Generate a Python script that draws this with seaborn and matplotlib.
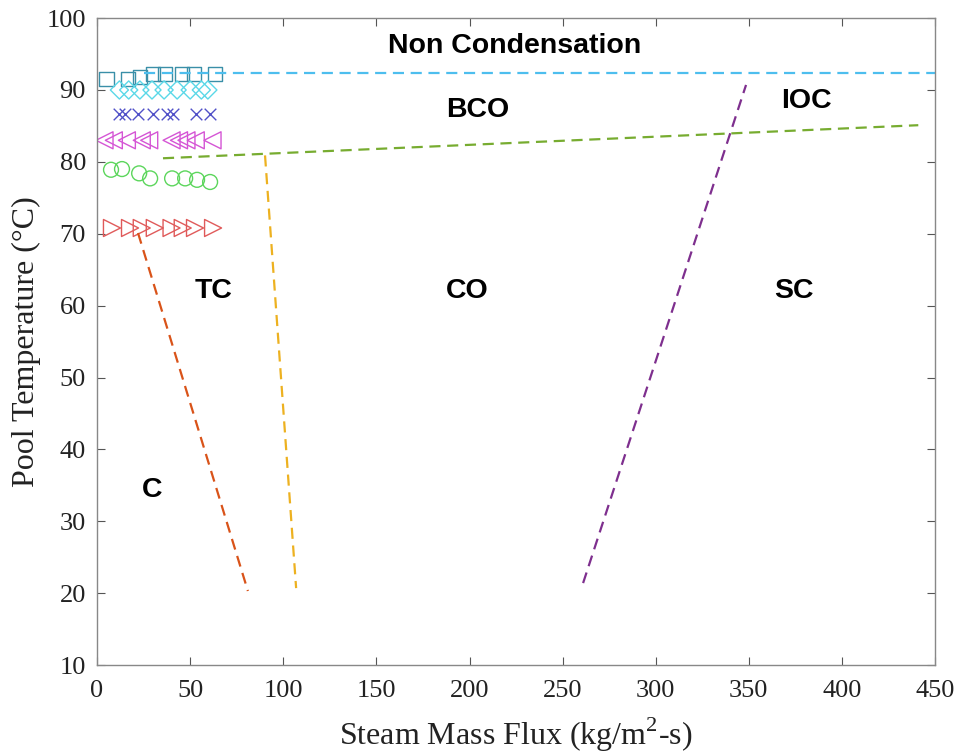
import numpy as np
import pandas as pd
import matplotlib
matplotlib.use("Agg")
import matplotlib.pyplot as plt
import seaborn as sns

# ---- data ----
sq_x = [5, 16.6, 23, 30, 36.5, 45.6, 52, 63.4]
sq_y = [91.5, 91.5, 91.8, 92.2, 92.2, 92.2, 92.2, 92.2]

dm_x = [12, 17, 23, 29.5, 36, 43, 50, 56, 59.5]
dm_y = [90, 90, 90, 90, 90, 90, 90, 90, 90]

xm_x = [11.8, 15, 22, 30, 37.6, 40.8, 53, 60.7]
xm_y = [86.7, 86.7, 86.7, 86.7, 86.7, 86.7, 86.7, 86.7]

tl_x = [4, 9, 16, 24, 28, 40, 44, 48, 53, 62]
tl_y = [83, 83, 83, 83, 83, 83, 83, 83, 83, 83]

ci_x = [7.5, 13.4, 22.6, 28.5, 40.3, 47.3, 53.7, 60.7]
ci_y = [78.9, 79.0, 78.4, 77.7, 77.7, 77.7, 77.5, 77.2]

tr_x = [8, 17.7, 24, 31, 40, 46, 52.6, 62.3]
tr_y = [70.8, 70.8, 70.8, 70.8, 70.8, 70.8, 70.8, 70.8]

nc_line_x = [25, 450]
nc_line_y = [92.4, 92.4]
bco_line_x = [35.4, 441]
bco_line_y = [80.5, 85.1]
tc_line_x = [90.2, 106.9]
tc_line_y = [80.9, 20.7]
c_line_x = [22, 81]
c_line_y = [70.1, 20.3]
sc_line_x = [261, 348.5]
sc_line_y = [21.4, 90.7]

labels = ["Non Condensation", "BCO", "IOC", "TC", "CO", "SC", "C"]
label_x = [224, 204.6, 380.8, 62.8, 198.7, 374, 29.5]
label_y = [96.1, 87.2, 88.5, 62, 62, 62, 34.4]

x_ticks = [0, 50, 100, 150, 200, 250, 300, 350, 400, 450]
y_ticks = [10, 20, 30, 40, 50, 60, 70, 80, 90, 100]

sns.set_theme(style="white")
plt.rcParams['font.family'] = ['Liberation Serif', 'DejaVu Serif']
plt.rcParams['mathtext.fontset'] = 'custom'
plt.rcParams['mathtext.rm'] = 'Liberation Serif'

fig = plt.figure(figsize=(9.61, 7.54), dpi=100)
ax = fig.add_axes([0.101, 0.118, 0.872, 0.858])

# dashed boundary lines
lines = [
    (nc_line_x, nc_line_y, "#4DBEEE"),
    (bco_line_x, bco_line_y, "#77AC30"),
    (tc_line_x, tc_line_y, "#EDB120"),
    (c_line_x, c_line_y, "#D95319"),
    (sc_line_x, sc_line_y, "#7E2F8E"),
]
for lx, ly, col in lines:
    sns.lineplot(x=lx, y=ly, ax=ax, color=col, linestyle=(0, (5, 3)), linewidth=1.6, sort=False)

series = [
    (sq_x, sq_y, "s", "#3a8fa8", 110),
    (dm_x, dm_y, "D", "#5ad8e8", 85),
    (tl_x, tl_y, "<", "#d555d5", 150),
    (ci_x, ci_y, "o", "#5cd65c", 115),
    (tr_x, tr_y, ">", "#e05a5a", 150),
]
for sx, sy, mk, col, sz in series:
    sns.scatterplot(x=sx, y=sy, ax=ax, marker=mk, s=sz,
                    facecolors="none", edgecolor=col, linewidth=1.0)
sns.scatterplot(x=xm_x, y=xm_y, ax=ax, marker="x", s=70, color="#5050c8", linewidth=1.0)

for t, tx, ty in zip(labels, label_x, label_y):
    ax.text(tx, ty, t, ha="center", va="center", fontsize=20.5, fontweight="bold",
            family=["Liberation Sans", "DejaVu Sans"], color="black")

ax.set_xlim(0, 450)
ax.set_ylim(10, 100)
ax.set_xticks(x_ticks)
ax.set_yticks(y_ticks)
ax.tick_params(axis="both", direction="in", length=6, width=0.8, colors="#555555",
               labelsize=19, labelcolor="#222222", top=True, right=True, bottom=True, left=True)
ax.tick_params(axis="x", pad=11)
ax.tick_params(axis="y", pad=8)
for sp in ax.spines.values():
    sp.set_color("#888888")
    sp.set_linewidth(1.0)
ax.set_xlabel("Steam Mass Flux (kg/m$^2$-s)", fontsize=23, color="#222222", labelpad=10)
ax.set_ylabel("Pool Temperature (°C)", fontsize=23, color="#222222", labelpad=4)

fig.savefig("out.png", dpi=100)
